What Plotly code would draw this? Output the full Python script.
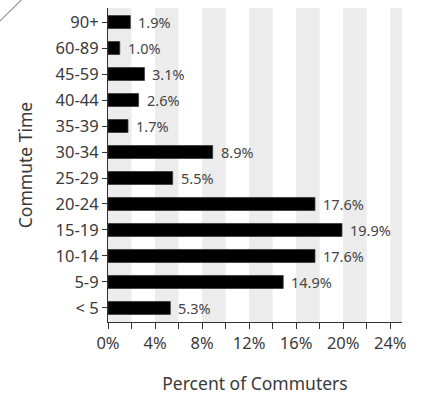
import plotly.graph_objects as go

# Commute time distribution (share of commuters, %)
categories = ["< 5", "5-9", "10-14", "15-19", "20-24", "25-29",
              "30-34", "35-39", "40-44", "45-59", "60-89", "90+"]
percent = [5.3, 14.9, 17.6, 19.9, 17.6, 5.5, 8.9, 1.7, 2.6, 3.1, 1.0, 1.9]
labels = [f"{v:.1f}%" for v in percent]

x_ticks = [0, 4, 8, 12, 16, 20, 24]
x_max = 25

FONT = "Noto Sans"
TEXT = "#3a3a3a"

fig = go.Figure()
fig.add_trace(go.Bar(
    y=categories, x=percent, orientation="h",
    marker=dict(color="#000000", line=dict(color="#3a3a3a", width=0.8)),
    width=0.5,
    hoverinfo="skip",
))

# value labels just past the end of each bar
annotations = [
    dict(x=v, y=c, xref="x", yref="y", text=t, showarrow=False,
         xanchor="left", yanchor="middle", xshift=6,
         font=dict(family=FONT, size=14.5, color="#454545"))
    for c, v, t in zip(categories, percent, labels)
]

# alternating light-grey vertical bands every 2%
shapes = []
start = 0
while start < x_max:
    shapes.append(dict(type="rect", xref="x", yref="paper",
                       x0=start, x1=min(start + 2, x_max), y0=0, y1=1,
                       fillcolor="#ececec", line=dict(width=0), layer="below"))
    start += 4
# thin diagonal stroke in the upper-left corner
shapes.append(dict(type="line", xref="paper", yref="paper",
                   x0=-0.372, y0=0.955, x1=-0.29, y1=1.03,
                   line=dict(color="#999999", width=1.2)))

fig.update_layout(
    width=423, height=397,
    margin=dict(l=108, r=21, t=8, b=75),
    plot_bgcolor="white", paper_bgcolor="white",
    showlegend=False, bargap=0.5,
    shapes=shapes, annotations=annotations,
    font=dict(family=FONT, color=TEXT),
    xaxis=dict(
        range=[0, x_max], tickvals=x_ticks,
        ticktext=[f"{t}%" for t in x_ticks],
        ticks="outside", ticklen=6, tickcolor="#333333",
        minor=dict(dtick=2, tick0=0, ticks="outside", ticklen=6, tickcolor="#333333"),
        showline=True, linecolor="#333333", linewidth=1.2,
        showgrid=False, zeroline=False,
        tickfont=dict(family=FONT, size=16.5, color=TEXT),
        title=dict(text="Percent of Commuters", standoff=24,
                   font=dict(family=FONT, size=17.5, color=TEXT)),
    ),
    yaxis=dict(
        type="category", categoryorder="array", categoryarray=categories,
        range=[-0.54, 11.54],
        ticks="outside", ticklen=5, tickcolor="#333333",
        showline=True, linecolor="#333333", linewidth=1.2,
        showgrid=False, zeroline=False,
        tickfont=dict(family=FONT, size=16.5, color=TEXT),
        title=dict(text="Commute Time", standoff=18,
                   font=dict(family=FONT, size=17.5, color=TEXT)),
    ),
)

fig.write_html("out.html")
